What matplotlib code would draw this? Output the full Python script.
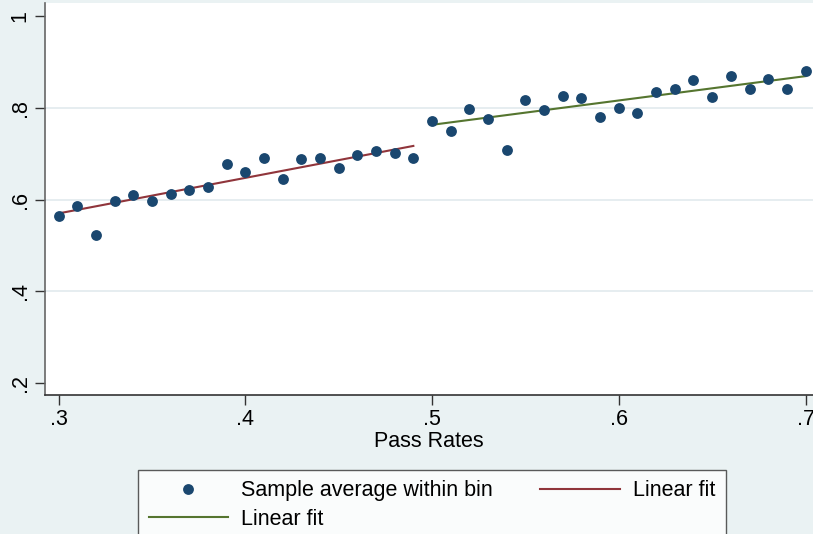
import matplotlib
matplotlib.use("Agg")
import matplotlib.pyplot as plt
from matplotlib.lines import Line2D
import numpy as np

plt.rcParams['font.family'] = ['Liberation Sans', 'DejaVu Sans']

# Data
pass_rates_left = [0.30, 0.31, 0.32, 0.33, 0.34, 0.35, 0.36, 0.37, 0.38, 0.39,
                   0.40, 0.41, 0.42, 0.43, 0.44, 0.45, 0.46, 0.47, 0.48, 0.49]
avg_left = [0.564, 0.587, 0.523, 0.596, 0.610, 0.598, 0.612, 0.621, 0.627, 0.678,
            0.661, 0.691, 0.644, 0.689, 0.691, 0.670, 0.697, 0.705, 0.702, 0.691]
pass_rates_right = [0.50, 0.51, 0.52, 0.53, 0.54, 0.55, 0.56, 0.57, 0.58, 0.59,
                    0.60, 0.61, 0.62, 0.63, 0.64, 0.65, 0.66, 0.67, 0.68, 0.69, 0.70]
avg_right = [0.771, 0.750, 0.797, 0.776, 0.709, 0.817, 0.795, 0.825, 0.821, 0.781,
             0.800, 0.789, 0.834, 0.842, 0.860, 0.824, 0.870, 0.841, 0.863, 0.841, 0.880]
fit_left_x = [0.30, 0.49]
fit_left_y = [0.570, 0.717]
fit_right_x = [0.50, 0.70]
fit_right_y = [0.763, 0.869]
x_ticks = [0.3, 0.4, 0.5, 0.6, 0.7]
x_tick_labels = ['.3', '.4', '.5', '.6', '.7']
y_ticks = [0.2, 0.4, 0.6, 0.8, 1.0]
y_tick_labels = ['.2', '.4', '.6', '.8', '1']
x_label = 'Pass Rates'
legend_labels = ['Sample average within bin', 'Linear fit', 'Linear fit']

BG = '#EAF2F3'
NAVY = '#1A476F'
MAROON = '#90353B'
GREEN = '#55752F'
FS = 15.5

fig = plt.figure(figsize=(8.13, 5.34), dpi=100, facecolor=BG)
W, H = 813, 534
ax = fig.add_axes([44.5 / W, 1 - 395 / H, 1 - 44.5 / W, (395 - 3) / H])
ax.set_facecolor('white')

for g in [0.4, 0.6, 0.8]:
    ax.axhline(g, color='#E1EAEE', lw=1.2, zorder=0)

ax.plot(pass_rates_left + pass_rates_right, avg_left + avg_right, 'o', color=NAVY,
        markersize=7.8, markeredgewidth=0, zorder=3)
ax.plot(fit_left_x, fit_left_y, color=MAROON, lw=1.5, zorder=2)
ax.plot(fit_right_x, fit_right_y, color=GREEN, lw=1.5, zorder=2)

ax.set_xlim(0.2925, 0.704)
ax.set_ylim(0.1745, 1.0283)
ax.set_xticks(x_ticks)
ax.set_xticklabels(x_tick_labels)
ax.set_yticks(y_ticks)
ax.set_yticklabels(y_tick_labels, rotation=90, va='center')
ax.tick_params(axis='both', length=7, width=1, color='#333333', labelsize=FS,
               direction='out')
ax.tick_params(axis='x', pad=3)
ax.tick_params(axis='y', pad=3)
ax.set_xlabel(x_label, fontsize=FS, labelpad=1)

for s in ['top', 'right']:
    ax.spines[s].set_visible(False)
ax.spines['left'].set_color('#666666')
ax.spines['bottom'].set_color('#333333')
ax.spines['left'].set_linewidth(1.2)
ax.spines['bottom'].set_linewidth(1.2)

h_sc = Line2D([], [], marker='o', color=NAVY, linestyle='none', markersize=7.8,
              markeredgewidth=0)
h_red = Line2D([], [], color=MAROON, lw=1.5)
h_green = Line2D([], [], color=GREEN, lw=1.5)
leg = fig.legend([h_sc, h_green, h_red],
                 [legend_labels[0], legend_labels[2], legend_labels[1]],
                 ncol=2, loc='upper left', bbox_to_anchor=(137.8 / W, 1 - 469.6 / H),
                 fontsize=FS, frameon=True, fancybox=False, handlelength=3.7,
                 handletextpad=0.6, columnspacing=2.2, labelspacing=0.35,
                 borderpad=0.5, borderaxespad=0)
leg.get_frame().set_edgecolor('#333333')
leg.get_frame().set_linewidth(1)
leg.get_frame().set_facecolor('white')

fig.savefig('out.png', dpi=100, facecolor=BG)
